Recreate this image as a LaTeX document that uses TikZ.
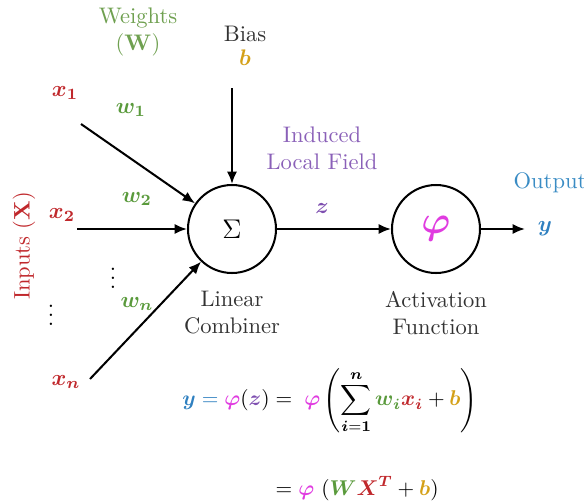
\documentclass[tikz,border=0pt]{standalone}
\usepackage{amsmath,bm}
\usetikzlibrary{arrows.meta}
\definecolor{cy}{HTML}{2F80C0}
\definecolor{cphi}{HTML}{E03CE0}
\definecolor{cz}{HTML}{7E4FB0}
\definecolor{cw}{HTML}{5A9A3C}
\definecolor{cx}{HTML}{C0282C}
\definecolor{cb}{HTML}{D4A017}
\definecolor{cwt}{HTML}{6FA050}
\definecolor{cint}{HTML}{8A60B8}
\definecolor{cout}{HTML}{3A8CC4}
\definecolor{cgray}{HTML}{333333}
\begin{document}
\begin{tikzpicture}[x=0.444pt,y=-0.444pt,
  neuron/.style={circle,draw,line width=0.9pt,minimum size=88*0.444pt,inner sep=0pt},
  conn/.style={line width=0.9pt,-{Latex[length=5.5pt,width=4.5pt]}},
  lbl/.style={align=center,inner sep=0pt}]
\useasboundingbox (0,0) rectangle (584,503);
\node[neuron] (sum) at (232,229) {\large$\Sigma$};
\node[neuron] (act) at (436,229) {\LARGE$\color{cphi}\bm{\varphi}$};
% inputs
\node[lbl] (x1) at (65,93) {$\color{cx}\bm{x_1}$};
\node[lbl] (x2) at (62,215) {$\color{cx}\bm{x_2}$};
\node[lbl] (xn) at (66,382) {$\color{cx}\bm{x_n}$};
\node[lbl] (d1) at (51,309) {$\vdots$};
\node[lbl] (d2) at (113,272) {$\vdots$};
\node[lbl,rotate=90,text=cx] (inp) at (24,246) {Inputs ($\mathbf{X}$)};
% weights
\node[lbl,text=cwt] (wt) at (138,32) {Weights\\($\mathbf{W}$)};
\node[lbl] (w1) at (131,110) {$\color{cw}\bm{w_1}$};
\node[lbl] (w2) at (137,199) {$\color{cw}\bm{w_2}$};
\node[lbl] (wn) at (137,304) {$\color{cw}\bm{w_n}$};
% bias
\node[lbl,text=cgray] (bias) at (245,34) {Bias};
\node[lbl] (b) at (245,58) {$\color{cb}\bm{b}$};
% connectors
\coordinate (s1) at (81,124);
\coordinate (s2) at (77,229);
\coordinate (sn) at (90,379);
\coordinate (sb) at (232,88);
\coordinate (yend) at (525,229);
\draw[conn] (s1) -- (sum);
\draw[conn] (s2) -- (sum);
\draw[conn] (sn) -- (sum);
\draw[conn] (sb) -- (sum);
\draw[conn] (sum) -- (act);
\draw[conn] (act) -- (yend);
% labels
\node[lbl,text=cint] (ilf) at (322,148) {Induced\\Local Field};
\node[lbl] (z) at (322,208) {$\color{cz}\bm{z}$};
\node[lbl,text=cout] (outp) at (550,183) {Output};
\node[lbl] (y) at (545,229) {$\color{cy}\bm{y}$};
\node[lbl,text=cgray] (lc) at (232,313) {Linear\\Combiner};
\node[lbl,text=cgray] (af) at (436,313) {Activation\\Function};
% equation
\node[inner sep=0pt,anchor=west,scale=0.95] (eq) at (182,436) {$\displaystyle
\begin{aligned}
\color{cy}\bm{y} = \color{cphi}\bm{\varphi}\color{black}(\color{cz}\bm{z}\color{black}) &= \;\color{cphi}\bm{\varphi}\color{black}\left(\sum_{\bm{i}=\bm{1}}^{\bm{n}}\color{cw}\bm{w_i}\color{cx}\bm{x_i}\color{black}+\color{cb}\bm{b}\color{black}\right)\\[16pt]
&= \color{cphi}\bm{\varphi}\color{black}\ (\color{cw}\bm{W}\color{cx}\bm{X}^{\color{cx}\bm{T}}\color{black}+\color{cb}\bm{b}\color{black})
\end{aligned}$};
\end{tikzpicture}
\end{document}
